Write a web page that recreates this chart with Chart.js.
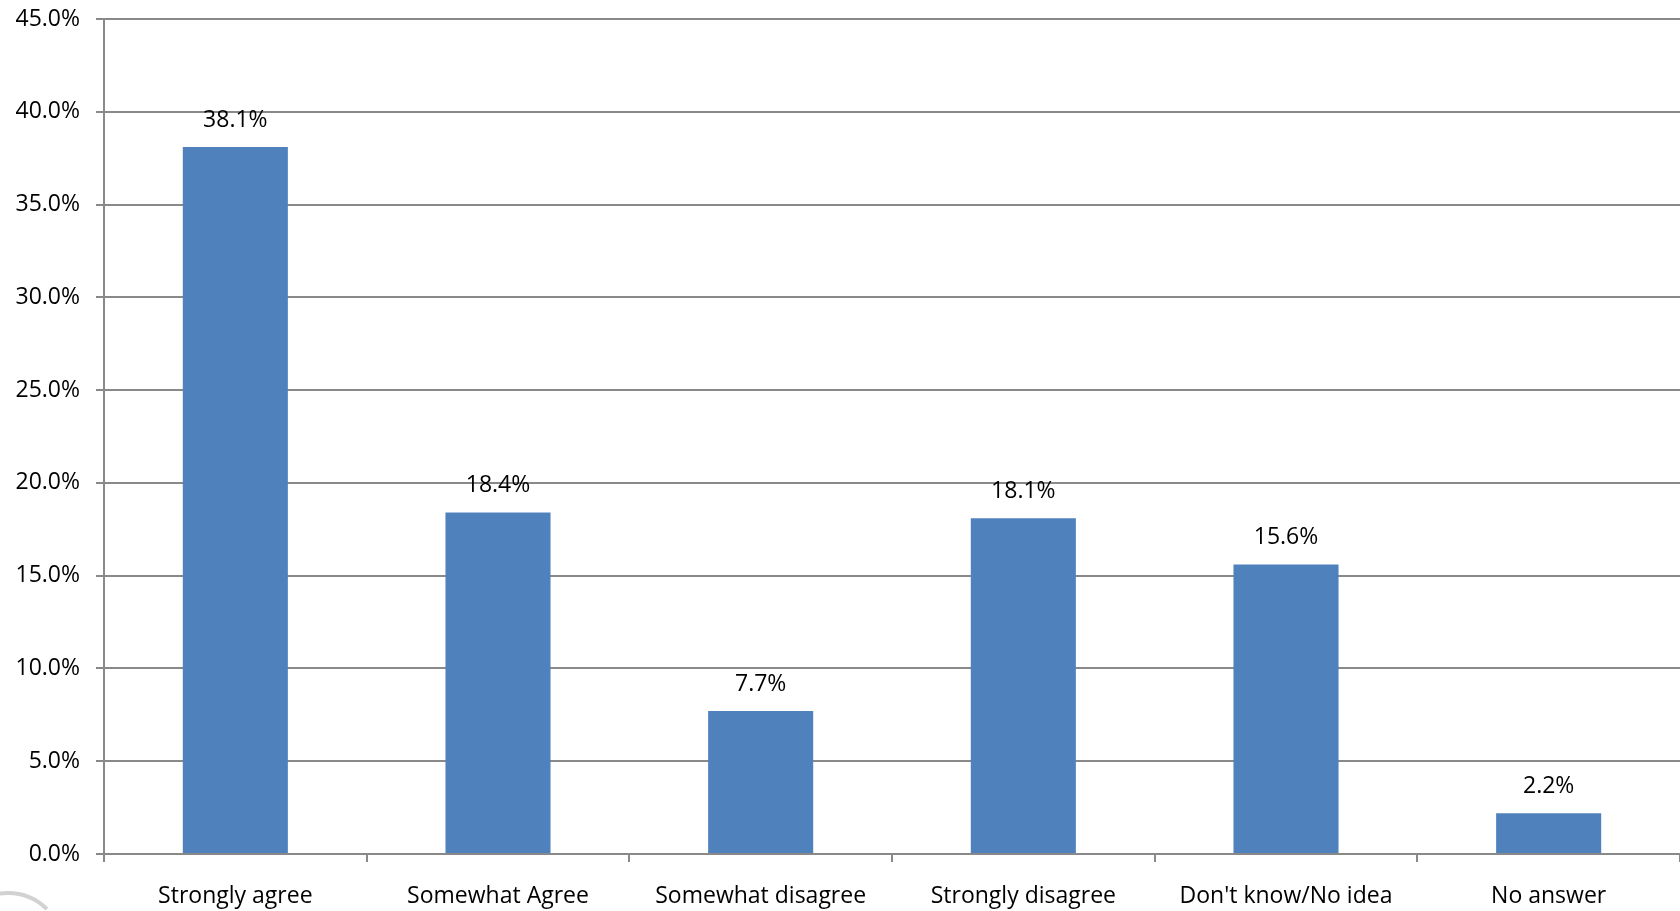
<!DOCTYPE html>
<html>
<head>
<meta charset="utf-8">
<script src="https://cdn.jsdelivr.net/npm/chart.js@4/dist/chart.umd.min.js"></script>
<style>
  html, body { margin: 0; padding: 0; background: #fff; }
  #wrap { width: 1680px; height: 911px; }
</style>
</head>
<body>
<div id="wrap"><canvas id="answerChart" width="1680" height="911"></canvas></div>
<script>
// Categories and percentages
const categories = ["Strongly agree", "Somewhat Agree", "Somewhat disagree", "Strongly disagree", "Don't know/No idea", "No answer"];
const shares = [38.1, 18.4, 7.7, 18.1, 15.6, 2.2];
const yTicks = [0, 5, 10, 15, 20, 25, 30, 35, 40, 45];

const textFont = "'Open Sans', 'Liberation Sans', sans-serif";

// labels above bars
const valueLabels = {
  id: "valueLabels",
  afterDatasetsDraw(chart) {
    const ctx = chart.ctx;
    const meta = chart.getDatasetMeta(0);
    ctx.save();
    ctx.fillStyle = "#000";
    ctx.font = "23px " + textFont;
    ctx.textAlign = "center";
    ctx.textBaseline = "middle";
    meta.data.forEach((bar, i) => {
      ctx.fillText(shares[i].toFixed(1) + "%", bar.x, bar.y - 27);
    });
    ctx.restore();
  }
};

// faint arc in the bottom left corner
const cornerArc = {
  id: "cornerArc",
  afterDraw(chart) {
    const ctx = chart.ctx;
    ctx.save();
    ctx.strokeStyle = "#d2d2d2";
    ctx.lineWidth = 4;
    ctx.beginPath();
    ctx.arc(8, 948, 55, Math.PI, Math.PI * 1.75);
    ctx.stroke();
    ctx.restore();
  }
};

const ctx = document.getElementById("answerChart").getContext("2d");
new Chart(ctx, {
  type: "bar",
  data: {
    labels: categories,
    datasets: [
      {
        data: shares,
        backgroundColor: "#4f81bd",
        borderWidth: 0,
        categoryPercentage: 0.4,
        barPercentage: 1.0,
      },
    ],
  },
  options: {
    responsive: false,
    animation: false,
    layout: { padding: { top: 19, right: -5, left: 0, bottom: 0 } },
    plugins: {
      legend: { display: false },
      tooltip: { enabled: false },
    },
    scales: {
      x: {
        offset: true,
        grid: {
          offset: true,
          drawOnChartArea: false,
          drawTicks: true,
          tickLength: 8,
          color: "#898989",
          lineWidth: 2,
        },
        border: { color: "#898989", width: 2 },
        ticks: {
          color: "#000",
          font: { family: textFont, size: 23 },
          padding: 21,
          maxRotation: 0,
          autoSkip: false,
        },
        afterFit(scale) {
          scale.height = 57;
          scale.paddingLeft = 0;
          scale.paddingRight = 0;
        },
      },
      y: {
        min: 0,
        max: 45,
        afterBuildTicks(scale) {
          scale.ticks = yTicks.map((v) => ({ value: v }));
        },
        grid: {
          color: "#898989",
          lineWidth: 2,
          tickLength: 8,
        },
        border: { color: "#898989", width: 2 },
        ticks: {
          color: "#000",
          font: { family: textFont, size: 23 },
          padding: 16,
          callback: (v) => v.toFixed(1) + "%",
        },
        afterFit(scale) {
          scale.width = 104;
          scale.paddingTop = 0;
          scale.paddingBottom = 0;
        },
      },
    },
  },
  plugins: [valueLabels, cornerArc],
});
</script>
</body>
</html>
